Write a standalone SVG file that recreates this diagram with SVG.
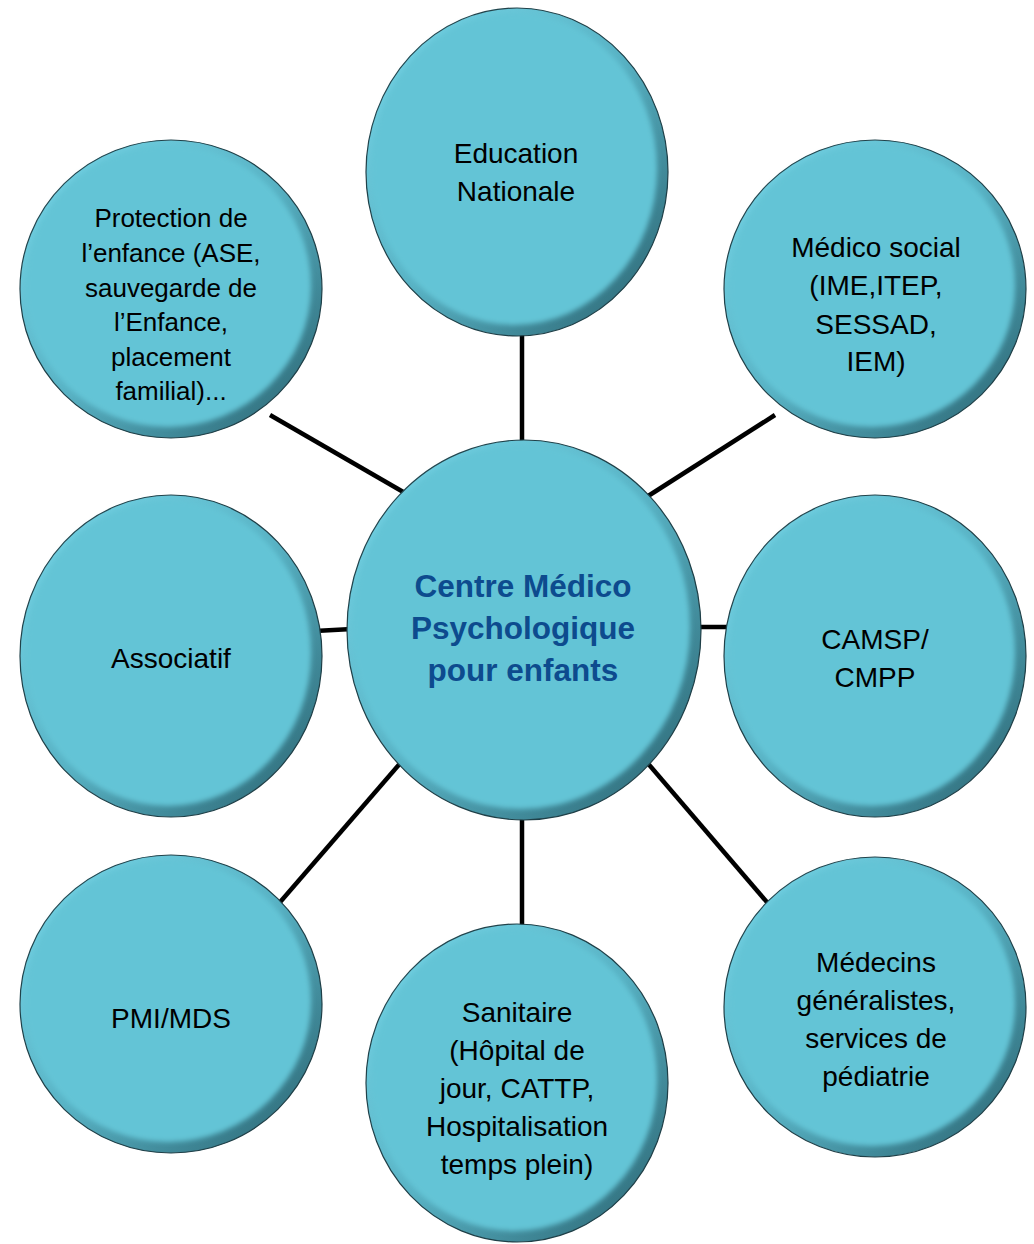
<svg xmlns="http://www.w3.org/2000/svg" width="1034" height="1244" viewBox="0 0 1034 1244">
<defs>
<linearGradient id="rim" x1="0" y1="0" x2="1" y2="1">
<stop offset="0" stop-color="#78d8ea"/>
<stop offset="0.5" stop-color="#58b2c4"/>
<stop offset="1" stop-color="#285f6c"/>
</linearGradient>
<filter id="soft" x="-10%" y="-10%" width="120%" height="120%">
<feGaussianBlur stdDeviation="2.5"/>
</filter>
<style>
.rim{fill:url(#rim);stroke:#1f3f47;stroke-width:1.2}
.face{fill:#63c4d6;filter:url(#soft)}
.lbl{font-family:"Liberation Sans",Arial,sans-serif;fill:#000;text-anchor:middle}
.ctr{font-family:"Liberation Sans",Arial,sans-serif;fill:#0d4b8e;font-weight:bold;text-anchor:middle;font-size:31.5px}
.conn{stroke:#000;stroke-width:4.5;fill:none}
</style>
</defs>
<rect width="1034" height="1244" fill="#fff"/>
<g id="connectors">
<line class="conn" x1="522" y1="330" x2="522" y2="445"/>
<line class="conn" x1="270" y1="415" x2="405" y2="493"/>
<line class="conn" x1="775" y1="415" x2="645" y2="498"/>
<line class="conn" x1="315" y1="631" x2="352" y2="629"/>
<line class="conn" x1="696" y1="627" x2="730" y2="627"/>
<line class="conn" x1="275" y1="908" x2="403" y2="760"/>
<line class="conn" x1="522" y1="815" x2="522" y2="930"/>
<line class="conn" x1="645" y1="760" x2="772" y2="908"/>
</g>
<g id="node-education">
<ellipse class="rim" cx="517" cy="172" rx="151" ry="164"/>
<ellipse class="face" cx="514" cy="169" rx="143" ry="156"/>
<text class="lbl" font-size="28" x="516"><tspan x="516" y="163">Education</tspan><tspan x="516" y="201">Nationale</tspan></text>
</g>
<g id="node-protection">
<ellipse class="rim" cx="171" cy="289" rx="151" ry="149"/>
<ellipse class="face" cx="168" cy="286" rx="143" ry="141"/>
<text class="lbl" font-size="26"><tspan x="171" y="227">Protection de</tspan><tspan x="171" y="262">l’enfance (ASE,</tspan><tspan x="171" y="297">sauvegarde de</tspan><tspan x="171" y="331">l’Enfance,</tspan><tspan x="171" y="366">placement</tspan><tspan x="171" y="400">familial)...</tspan></text>
</g>
<g id="node-medico-social">
<ellipse class="rim" cx="875" cy="289" rx="151" ry="149"/>
<ellipse class="face" cx="872" cy="286" rx="143" ry="141"/>
<text class="lbl" font-size="28"><tspan x="876" y="257">Médico social</tspan><tspan x="876" y="295">(IME,ITEP,</tspan><tspan x="876" y="334">SESSAD,</tspan><tspan x="876" y="371">IEM)</tspan></text>
</g>
<g id="node-associatif">
<ellipse class="rim" cx="171" cy="656" rx="151" ry="161"/>
<ellipse class="face" cx="168" cy="653" rx="143" ry="153"/>
<text class="lbl" font-size="28" x="171" y="668">Associatif</text>
</g>
<g id="node-camsp">
<ellipse class="rim" cx="875" cy="656" rx="151" ry="161"/>
<ellipse class="face" cx="872" cy="653" rx="143" ry="153"/>
<text class="lbl" font-size="28"><tspan x="875" y="649">CAMSP/</tspan><tspan x="875" y="687">CMPP</tspan></text>
</g>
<g id="node-pmi">
<ellipse class="rim" cx="171" cy="1004" rx="151" ry="149"/>
<ellipse class="face" cx="168" cy="1001" rx="143" ry="141"/>
<text class="lbl" font-size="28" x="171" y="1028">PMI/MDS</text>
</g>
<g id="node-sanitaire">
<ellipse class="rim" cx="517" cy="1083" rx="151" ry="159"/>
<ellipse class="face" cx="514" cy="1080" rx="143" ry="151"/>
<text class="lbl" font-size="28"><tspan x="517" y="1022">Sanitaire</tspan><tspan x="517" y="1060">(Hôpital de</tspan><tspan x="517" y="1098">jour, CATTP,</tspan><tspan x="517" y="1136">Hospitalisation</tspan><tspan x="517" y="1174">temps plein)</tspan></text>
</g>
<g id="node-medecins">
<ellipse class="rim" cx="875" cy="1007" rx="151" ry="150"/>
<ellipse class="face" cx="872" cy="1004" rx="143" ry="142"/>
<text class="lbl" font-size="28"><tspan x="876" y="972">Médecins</tspan><tspan x="876" y="1010">généralistes,</tspan><tspan x="876" y="1048">services de</tspan><tspan x="876" y="1086">pédiatrie</tspan></text>
</g>
<g id="node-center">
<ellipse class="rim" cx="524" cy="630" rx="177" ry="190"/>
<ellipse class="face" cx="521" cy="627" rx="169" ry="182"/>
<text class="ctr"><tspan x="523" y="597">Centre Médico</tspan><tspan x="523" y="639">Psychologique</tspan><tspan x="523" y="681">pour enfants</tspan></text>
</g>
</svg>
